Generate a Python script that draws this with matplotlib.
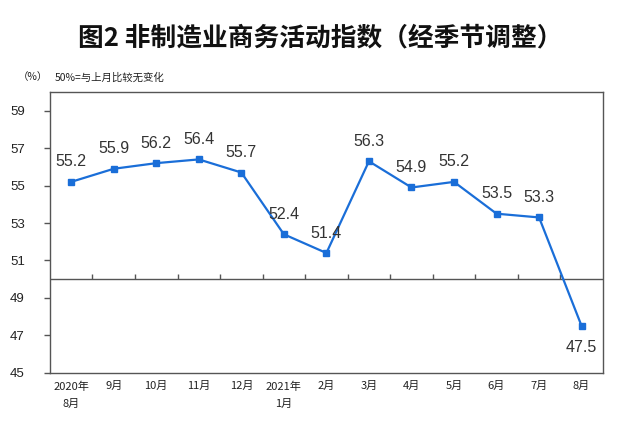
import matplotlib
matplotlib.use("Agg")
import matplotlib.pyplot as plt

plt.rcParams['font.family'] = ['Noto Sans CJK SC', 'DejaVu Sans']

months = ["2020年\n8月", "9月", "10月", "11月", "12月", "2021年\n1月", "2月",
          "3月", "4月", "5月", "6月", "7月", "8月"]
index_values = [55.2, 55.9, 56.2, 56.4, 55.7, 52.4, 51.4, 56.3, 54.9, 55.2, 53.5, 53.3, 47.5]
y_ticks = [45, 47, 49, 51, 53, 55, 57, 59]

LINE_COLOR = "#1a6ed8"
GRID_COLOR = "#555555"
NUM_FONT = ["Liberation Sans", "DejaVu Sans"]

fig = plt.figure(figsize=(6.4, 4.3), dpi=100)
ax = fig.add_axes([0.078, 0.133, 0.864, 0.653])

x = list(range(len(index_values)))
ax.plot(x, index_values, color=LINE_COLOR, linewidth=1.6,
        marker="s", markersize=4.5, zorder=3)

for xi, v in zip(x, index_values):
    if v < 50:
        ax.annotate(f"{v}", (xi, v), xytext=(0, -10), textcoords="offset points",
                    ha="center", va="top", fontsize=11.5, color="#333333",
                    family=NUM_FONT)
    else:
        ax.annotate(f"{v}", (xi, v), xytext=(0, 9), textcoords="offset points",
                    ha="center", va="bottom", fontsize=11.5, color="#333333",
                    family=NUM_FONT)

# 50% reference line with small upward ticks between months
ax.axhline(50, color=GRID_COLOR, linewidth=1.0, zorder=2)
ax.vlines([i + 0.5 for i in x[:-1]], 50, 50.3, color=GRID_COLOR, linewidth=1.0)

ax.set_xlim(-0.5, len(index_values) - 0.5)
ax.set_ylim(45, 60)
ax.set_yticks(y_ticks)
ax.set_yticklabels([str(t) for t in y_ticks], fontsize=9.5, color="#222222",
                   family=NUM_FONT)
ax.set_xticks(x)
ax.set_xticklabels(months, fontsize=8, color="#222222", linespacing=1.9)
ax.tick_params(axis="x", length=0, pad=6)
ax.tick_params(axis="y", length=4, width=1.0, color=GRID_COLOR, pad=14)

for spine in ax.spines.values():
    spine.set_color(GRID_COLOR)
    spine.set_linewidth(1.0)

fig.text(0.5, 0.912, "图2 非制造业商务活动指数（经季节调整）", ha="center", va="center",
         fontsize=18.5, fontweight="bold", color="#111111")
fig.text(0.027, 0.82, "（%）", ha="left", va="center", fontsize=7.5, color="#222222")
fig.text(0.085, 0.82, "50%=与上月比较无变化", ha="left", va="center", fontsize=7.5,
         color="#222222")

fig.savefig("out.png", dpi=100)
